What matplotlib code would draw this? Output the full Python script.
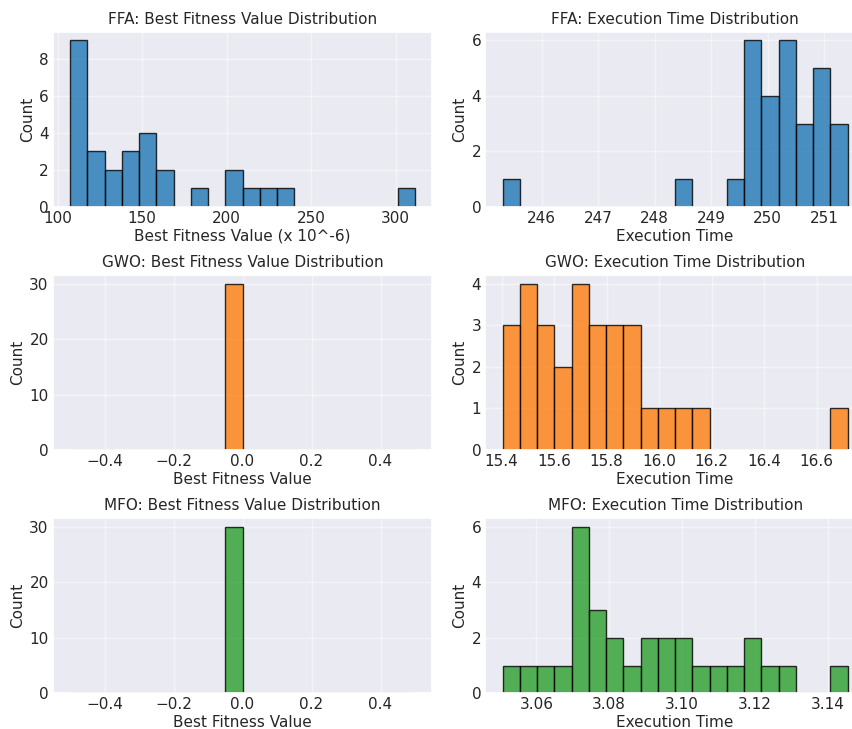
import numpy as np
import matplotlib
matplotlib.use("Agg")
import matplotlib.pyplot as plt
import seaborn as sns

sns.set_theme(style="darkgrid")
plt.rcParams['font.family'] = ['DejaVu Sans']

# histogram counts (20 bins each)
ffa_fit_counts = [9, 3, 2, 3, 4, 2, 0, 1, 0, 2, 1, 1, 1, 0, 0, 0, 0, 0, 0, 1]
ffa_fit_range = (107.4, 311.4)
ffa_time_counts = [1, 0, 0, 0, 0, 0, 0, 0, 0, 0, 1, 0, 0, 1, 6, 4, 6, 3, 5, 3]
ffa_time_range = (245.31, 251.41)

gwo_fit_counts = [0, 0, 0, 0, 0, 0, 0, 0, 0, 30, 0, 0, 0, 0, 0, 0, 0, 0, 0, 0]
gwo_fit_range = (-0.5, 0.5)
gwo_time_counts = [3, 4, 3, 2, 4, 3, 3, 3, 1, 1, 1, 1, 0, 0, 0, 0, 0, 0, 0, 1]
gwo_time_range = (15.404, 16.717)

mfo_fit_counts = [0, 0, 0, 0, 0, 0, 0, 0, 0, 30, 0, 0, 0, 0, 0, 0, 0, 0, 0, 0]
mfo_fit_range = (-0.5, 0.5)
mfo_time_counts = [1, 1, 1, 1, 6, 3, 2, 1, 2, 2, 2, 1, 1, 1, 2, 1, 1, 0, 0, 1]
mfo_time_range = (3.0507, 3.1455)

algos = ['FFA', 'GWO', 'MFO']
colors = ['tab:blue', 'tab:orange', 'tab:green']
fit_xlabels = ['Best Fitness Value (x 10^-6)', 'Best Fitness Value', 'Best Fitness Value']

rows = [
    (ffa_fit_counts, ffa_fit_range, ffa_time_counts, ffa_time_range),
    (gwo_fit_counts, gwo_fit_range, gwo_time_counts, gwo_time_range),
    (mfo_fit_counts, mfo_fit_range, mfo_time_counts, mfo_time_range),
]


def draw_hist(ax, counts, rng, color):
    edges = np.linspace(rng[0], rng[1], len(counts) + 1)
    centers = (edges[:-1] + edges[1:]) / 2
    ax.hist(centers, bins=edges, weights=counts, color=color, alpha=0.8,
            edgecolor='black', linewidth=1)
    ax.grid(True, alpha=0.5)
    ax.tick_params(labelsize=11, length=0, pad=3)


fig, axes = plt.subplots(3, 2, figsize=(8.52, 7.29), dpi=100)
fig.subplots_adjust(left=0.062, right=1.015, top=0.956, bottom=0.049,
                    wspace=0.14, hspace=0.39)

for i, (fc, fr, tc, tr) in enumerate(rows):
    ax = axes[i, 0]
    draw_hist(ax, fc, fr, colors[i])
    ax.set_title(f'{algos[i]}: Best Fitness Value Distribution', fontsize=11)
    ax.set_xlabel(fit_xlabels[i], fontsize=11, labelpad=2)
    ax.set_ylabel('Count', fontsize=11, labelpad=3)

    ax = axes[i, 1]
    draw_hist(ax, tc, tr, colors[i])
    ax.set_title(f'{algos[i]}: Execution Time Distribution', fontsize=11)
    ax.set_xlabel('Execution Time', fontsize=11, labelpad=2)
    ax.set_ylabel('Count', fontsize=11, labelpad=3)

fig.savefig('out.png', dpi=100)
